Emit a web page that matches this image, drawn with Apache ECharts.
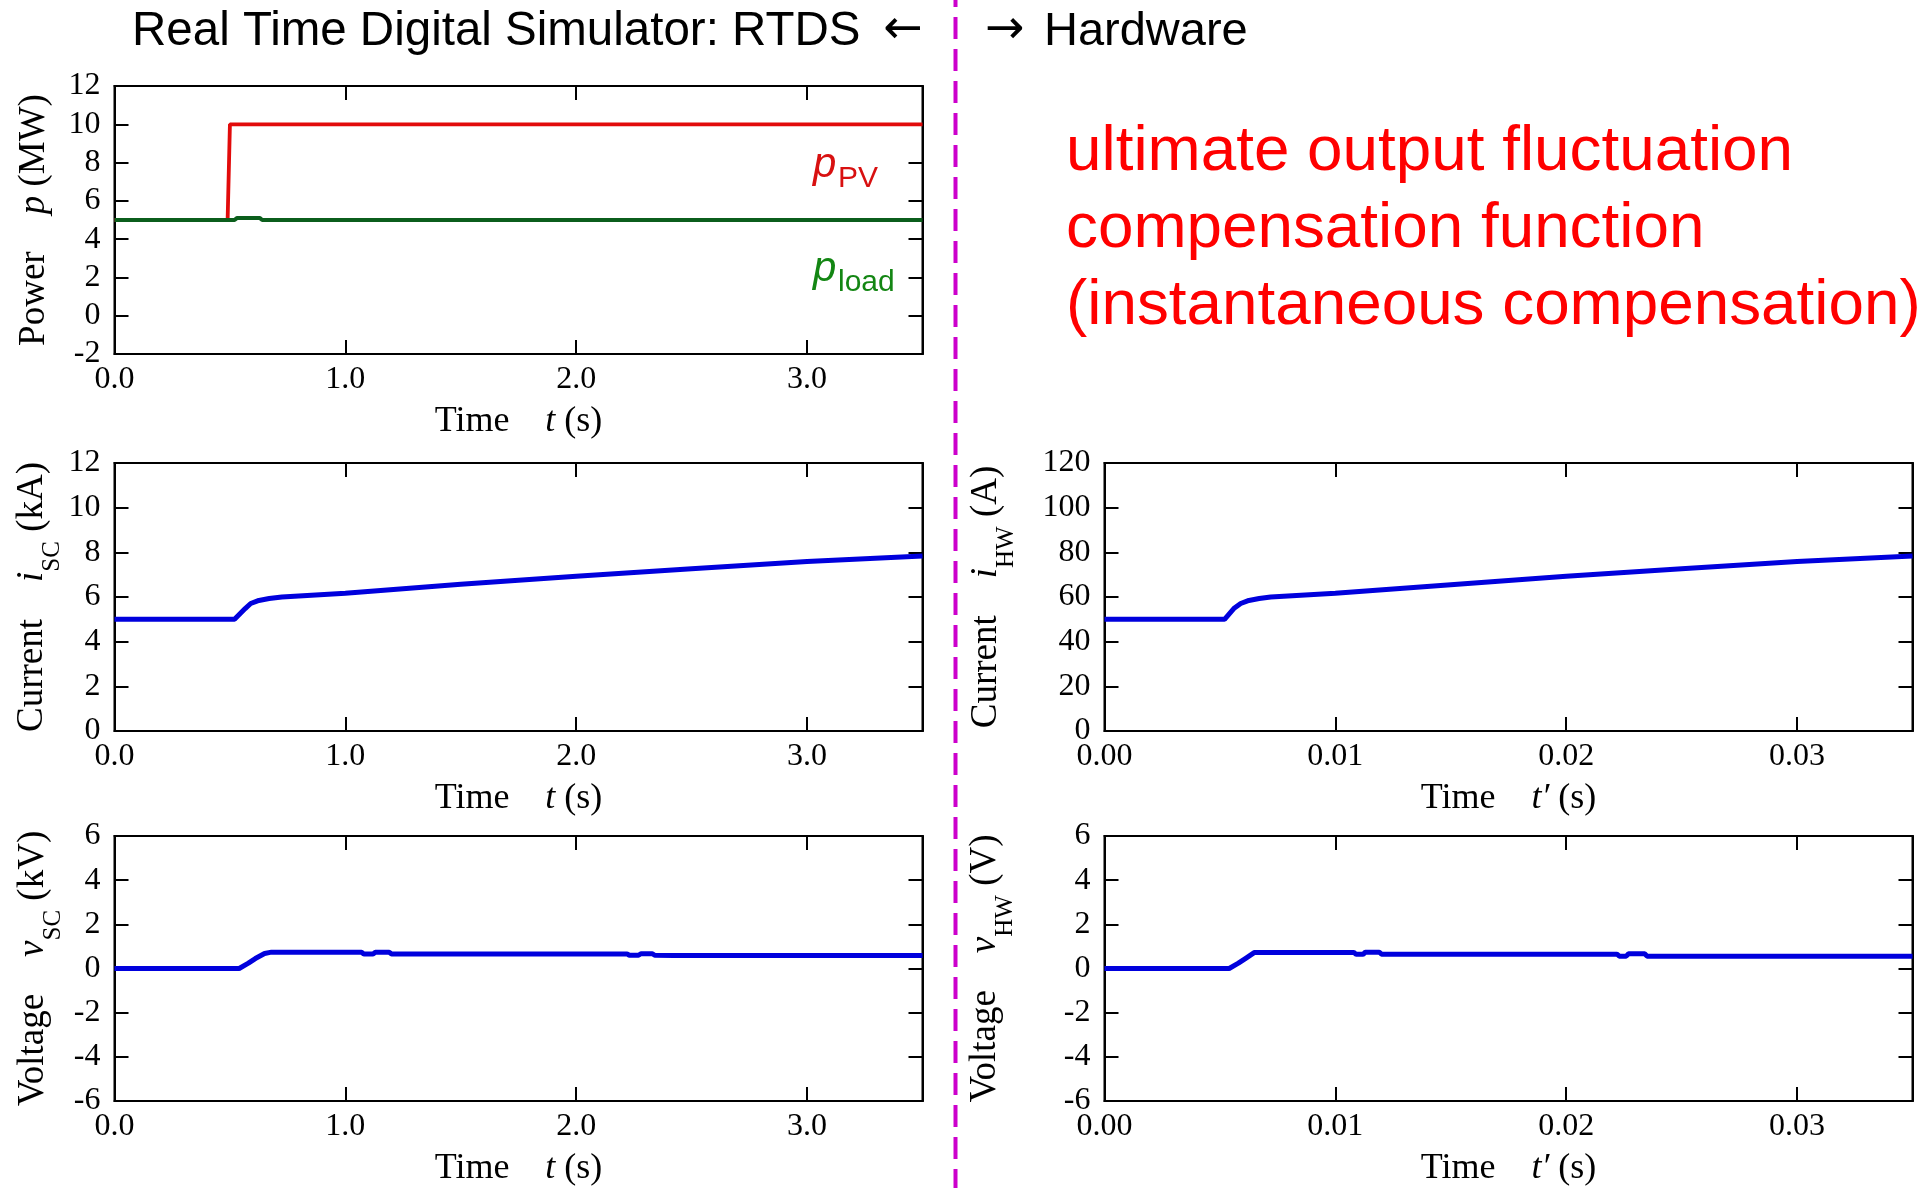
<!DOCTYPE html>
<html>
<head>
<meta charset="utf-8">
<script src="https://cdn.jsdelivr.net/npm/echarts@6/dist/echarts.min.js"></script>
<style>
  html, body { margin: 0; padding: 0; background: #ffffff; }
  #main { width: 1931px; height: 1188px; }
</style>
</head>
<body>
<div id="main"></div>
<script>
// ---- RTDS side (time t in s) ----
// PV output and load power (MW)
const tPV   = [0, 0.49, 0.50, 3.5];
const pPV   = [5, 5, 10, 10];
const tLoad = [0, 0.52, 0.53, 0.63, 0.64, 3.5];
const pLoad = [5, 5, 5.1, 5.1, 5, 5];

// supercapacitor current (kA)
const tSC = [0, 0.52, 0.566, 0.59, 0.62, 0.67, 0.725, 1.0, 1.5, 2.0, 2.5, 3.0, 3.5];
const iSC = [5.0, 5.0, 5.48, 5.71, 5.83, 5.93, 6.0, 6.17, 6.57, 6.93, 7.26, 7.59, 7.84];

// supercapacitor voltage (kV)
const tVSC = [0, 0.54, 0.58, 0.61, 0.65, 0.68, 1.07, 1.08, 1.12, 1.13, 1.19, 1.20, 1.22, 1.23,
              2.22, 2.23, 2.27, 2.28, 2.33, 2.34, 2.42, 3.5];
const vSC  = [0, 0, 0.24, 0.45, 0.68, 0.74, 0.74, 0.66, 0.66, 0.74, 0.74, 0.66, 0.66, 0.66,
              0.66, 0.60, 0.60, 0.67, 0.67, 0.60, 0.59, 0.59];

// ---- Hardware side (time t' in s) ----
// hardware current (A)
const tHW = [0, 0.0052, 0.0056, 0.0059, 0.0062, 0.0067, 0.0072, 0.010, 0.015, 0.020, 0.025, 0.030, 0.035];
const iHW = [50, 50, 54.8, 57.1, 58.3, 59.3, 60.0, 61.7, 65.5, 69.3, 72.6, 75.9, 78.4];

// hardware voltage (V)
const tVHW = [0, 0.0054, 0.0058, 0.0061, 0.0065, 0.0108, 0.0109, 0.0112, 0.0113, 0.0119, 0.0120, 0.0123,
              0.0124, 0.0222, 0.0223, 0.0226, 0.0227, 0.0234, 0.0235, 0.0242, 0.0243, 0.035];
const vHW  = [0, 0, 0.24, 0.45, 0.73, 0.73, 0.64, 0.64, 0.74, 0.74, 0.65, 0.65,
              0.65, 0.65, 0.56, 0.56, 0.67, 0.67, 0.56, 0.56, 0.56, 0.56];

// axis ranges: [min, max, interval]
const tRangeRTDS  = [0, 3.5, 1];
const tRangeHW    = [0, 0.035, 0.01];
const pRange      = [-2, 12, 2];
const iSCRange    = [0, 12, 2];
const iHWRange    = [0, 120, 20];
const vRange      = [-6, 6, 2];

const serif = "'Liberation Serif', 'Times New Roman', Times, serif";
const sans  = "'Liberation Sans', Arial, Helvetica, sans-serif";
const arrowFont = "'DejaVu Sans', sans-serif";

const zip = (xs, ys) => xs.map((x, i) => [x, ys[i]]);

// plot panels: power, i_SC, i_HW, v_SC, v_HW
const panels = [
  { left: 114.5,  top: 86,  width: 808, height: 268 },
  { left: 114.5,  top: 463, width: 808, height: 268 },
  { left: 1104.5, top: 463, width: 808, height: 268 },
  { left: 114.5,  top: 836, width: 808, height: 268 },
  { left: 1104.5, top: 836, width: 808, height: 268 }
];
const grid = panels.map(p => Object.assign({ show: true, borderColor: '#000', borderWidth: 2, backgroundColor: 'transparent' }, p));

const tickStyle = { show: true, inside: true, length: 14, lineStyle: { color: '#000', width: 2 } };
const lineStyleAx = { show: true, onZero: false, lineStyle: { color: '#000', width: 2 } };

const xNameRich = {
  n: { fontFamily: serif, fontSize: 36, color: '#000' },
  i: { fontFamily: serif, fontSize: 36, color: '#000', fontStyle: 'italic' }
};
const yNameRich = {
  n: { fontFamily: serif, fontSize: 37, color: '#000' },
  i: { fontFamily: serif, fontSize: 37, color: '#000', fontStyle: 'italic' },
  s: { fontFamily: serif, fontSize: 25, color: '#000', padding: [40, 0, 0, 0] }
};

const xAxis = [];
const yAxis = [];
function addX(gi, r, digits, name) {
  const base = { gridIndex: gi, type: 'value', min: r[0], max: r[1], interval: r[2], splitLine: { show: false } };
  xAxis.push(Object.assign({}, base, {
    position: 'bottom', axisLine: lineStyleAx, axisTick: tickStyle,
    axisLabel: { show: true, showMaxLabel: false, margin: 10, fontFamily: serif, fontSize: 32, color: '#000',
                 formatter: v => v.toFixed(digits) },
    name: name, nameLocation: 'middle', nameGap: 50,
    nameTextStyle: { fontFamily: serif, fontSize: 36, color: '#000', rich: xNameRich }
  }));
  xAxis.push(Object.assign({}, base, {
    position: 'top', axisLine: lineStyleAx, axisTick: tickStyle, axisLabel: { show: false }
  }));
}
function addY(gi, r, name, gap) {
  const base = { gridIndex: gi, type: 'value', min: r[0], max: r[1], interval: r[2], splitLine: { show: false } };
  yAxis.push(Object.assign({}, base, {
    position: 'left', axisLine: lineStyleAx, axisTick: tickStyle,
    axisLabel: { show: true, margin: 14, fontFamily: serif, fontSize: 32, color: '#000' },
    name: name, nameLocation: 'middle', nameRotate: 90, nameGap: gap,
    nameTextStyle: { fontFamily: serif, fontSize: 37, color: '#000', rich: yNameRich }
  }));
  yAxis.push(Object.assign({}, base, {
    position: 'right', axisLine: lineStyleAx, axisTick: tickStyle, axisLabel: { show: false }
  }));
}

const tName  = '{n|Time}    {i|t}{n| (s)}';
const tpName = '{n|Time}    {i|t′}{n| (s)}';

addX(0, tRangeRTDS, 1, tName);  addY(0, pRange,   '{n|Power}    {i|p}{n| (MW)}', 62);
addX(1, tRangeRTDS, 1, tName);  addY(1, iSCRange, '{n|Current}    {i|i}{s|SC}{n| (kA)}', 49);
addX(2, tRangeHW,   2, tpName); addY(2, iHWRange, '{n|Current}    {i|i}{s|HW}{n| (A)}', 86);
addX(3, tRangeRTDS, 1, tName);  addY(3, vRange,   '{n|Voltage}    {i|v}{s|SC}{n| (kV)}', 49);
addX(4, tRangeHW,   2, tpName); addY(4, vRange,   '{n|Voltage}    {i|v}{s|HW}{n| (V)}', 87);

function trace(gi, data, color, width, z) {
  return { type: 'line', xAxisIndex: gi * 2, yAxisIndex: gi * 2, data: data, showSymbol: false,
           symbol: 'none', lineStyle: { color: color, width: width }, z: z, animation: false };
}
const blue = '#0000dd';
const series = [
  trace(0, zip(tPV, pPV), '#e20b0b', 3.8, 2),
  trace(0, zip(tLoad, pLoad), '#0b5e1c', 4, 3),
  trace(1, zip(tSC, iSC), blue, 5, 2),
  trace(2, zip(tHW, iHW), blue, 5, 2),
  trace(3, zip(tVSC, vSC), blue, 5, 2),
  trace(4, zip(tVHW, vHW), blue, 5, 2)
];

function txt(x, y, text, font, fill, align) {
  return { type: 'text', x: x, y: y, silent: true, z: 10,
           style: { text: text, font: font, fill: fill, align: align || 'left', verticalAlign: 'middle' } };
}

const graphic = [
  // boundary between simulator and hardware
  { type: 'line', silent: true, z: 5,
    shape: { x1: 955.5, y1: 0, x2: 955.5, y2: 1188 },
    style: { stroke: '#cc00cc', lineWidth: 4, lineDash: [22, 10], lineDashOffset: 15 } },
  txt(132, 32, 'Real Time Digital Simulator: RTDS', '47.5px ' + sans, '#000'),
  txt(923, 31, '←', '47px ' + arrowFont, '#000', 'right'),
  txt(985, 31, '→', '47px ' + arrowFont, '#000'),
  txt(1044, 32, 'Hardware', '47px ' + sans, '#000'),
  txt(1066, 152, 'ultimate output fluctuation', '63.8px ' + sans, '#ff0000'),
  txt(1066, 229, 'compensation function', '63.8px ' + sans, '#ff0000'),
  txt(1066, 306, '(instantaneous compensation)', '63.8px ' + sans, '#ff0000'),
  // series labels
  txt(813, 165, 'p', 'italic 42px ' + sans, '#d81010'),
  txt(838, 179, 'PV', '30px ' + sans, '#d81010'),
  txt(813, 269, 'p', 'italic 42px ' + sans, '#138613'),
  txt(838, 283, 'load', '30px ' + sans, '#138613')
];

const chart = echarts.init(document.getElementById('main'), null, { renderer: 'canvas' });
chart.setOption({
  animation: false,
  backgroundColor: '#ffffff',
  grid: grid,
  xAxis: xAxis,
  yAxis: yAxis,
  series: series,
  graphic: graphic
});
</script>
</body>
</html>
